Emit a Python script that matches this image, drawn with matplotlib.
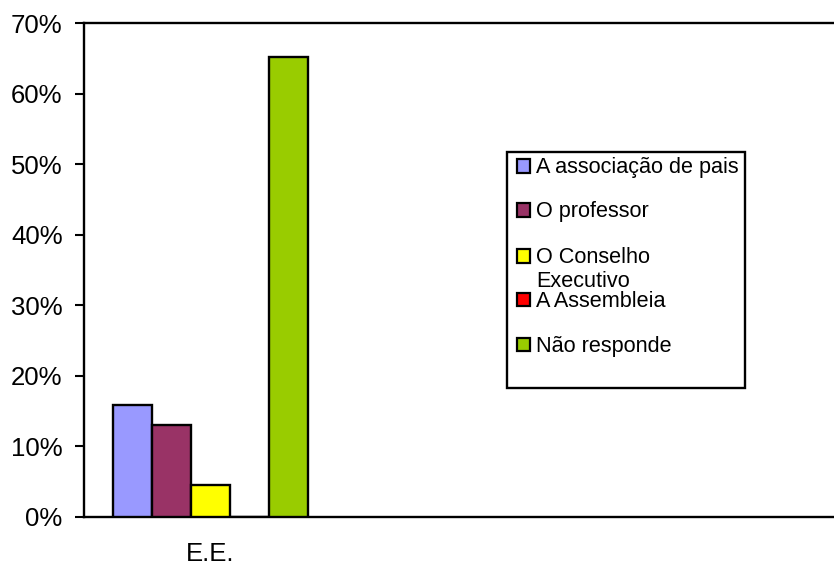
import matplotlib
matplotlib.use("Agg")
import matplotlib.pyplot as plt
from matplotlib.patches import Rectangle
from matplotlib.ticker import PercentFormatter

plt.rcParams['font.family'] = ['Liberation Sans', 'DejaVu Sans']

# Data
categories = ["E.E."]
series_names = ["A associação de pais", "O professor", "O Conselho\nExecutivo",
                "A Assembleia", "Não responde"]
series_values = [15.9, 13.0, 4.5, 0.0, 65.2]
series_colors = ["#9999FF", "#993366", "#FFFF00", "#FF0000", "#99CC00"]
y_ticks = [0, 10, 20, 30, 40, 50, 60, 70]

W, H = 834, 565
fig = plt.figure(figsize=(W / 100, H / 100), dpi=100)
fig.patch.set_facecolor("white")


def fx(px):
    return px / W


def fy(py):
    return 1 - py / H


# Plot area (extends past the right edge of the canvas)
left_px, right_px, top_px, bottom_px = 83.5, 845.5, 23.3, 516.7
ax = fig.add_axes([fx(left_px), fy(bottom_px),
                   (right_px - left_px) / W, (bottom_px - top_px) / H])

n = len(series_values)
bar_w = 1 / 6.5
for i, (name, val, col) in enumerate(zip(series_names, series_values, series_colors)):
    x = 0 + (i - (n - 1) / 2) * bar_w
    ax.bar(x, val, width=bar_w, color=col, edgecolor="black", linewidth=1.7,
           zorder=3)

ax.set_xlim(-0.5, 2.5)
ax.set_ylim(0, 70)
ax.set_yticks(y_ticks)
ax.yaxis.set_major_formatter(PercentFormatter(decimals=0))
ax.set_xticks(range(len(categories)))
ax.set_xticklabels(categories)

ax.tick_params(axis="y", length=6.5, width=1.5, pad=8.5, labelsize=18.5)
ax.tick_params(axis="x", length=0, pad=18, labelsize=18.5)
for s in ["left", "top", "bottom"]:
    ax.spines[s].set_linewidth(1.7)
    ax.spines[s].set_color("black")
ax.spines["right"].set_visible(False)

# Legend box drawn in figure pixels
box_l, box_r, box_t, box_b = 507.3, 745.0, 151.7, 388.3
fig.add_artist(Rectangle((fx(box_l), fy(box_b)), (box_r - box_l) / W,
                         (box_b - box_t) / H, transform=fig.transFigure,
                         facecolor="white", edgecolor="black", linewidth=1.7,
                         zorder=5))

baselines = [173.3, 217.3, 263.3, 306.7, 351.7]
line_step = 23.4
marker_size = 13.5
for name, col, base in zip(series_names, series_colors, baselines):
    cy = base - 7.4
    fig.add_artist(Rectangle((fx(516.5), fy(cy + marker_size / 2)),
                             marker_size / W, marker_size / H,
                             transform=fig.transFigure, facecolor=col,
                             edgecolor="black", linewidth=1.6, zorder=6))
    for k, line in enumerate(name.split("\n")):
        fig.text(fx(536), fy(base + k * line_step), line, fontsize=15.6,
                 ha="left", va="baseline", zorder=7)

fig.savefig("out.png", dpi=100, facecolor="white")
